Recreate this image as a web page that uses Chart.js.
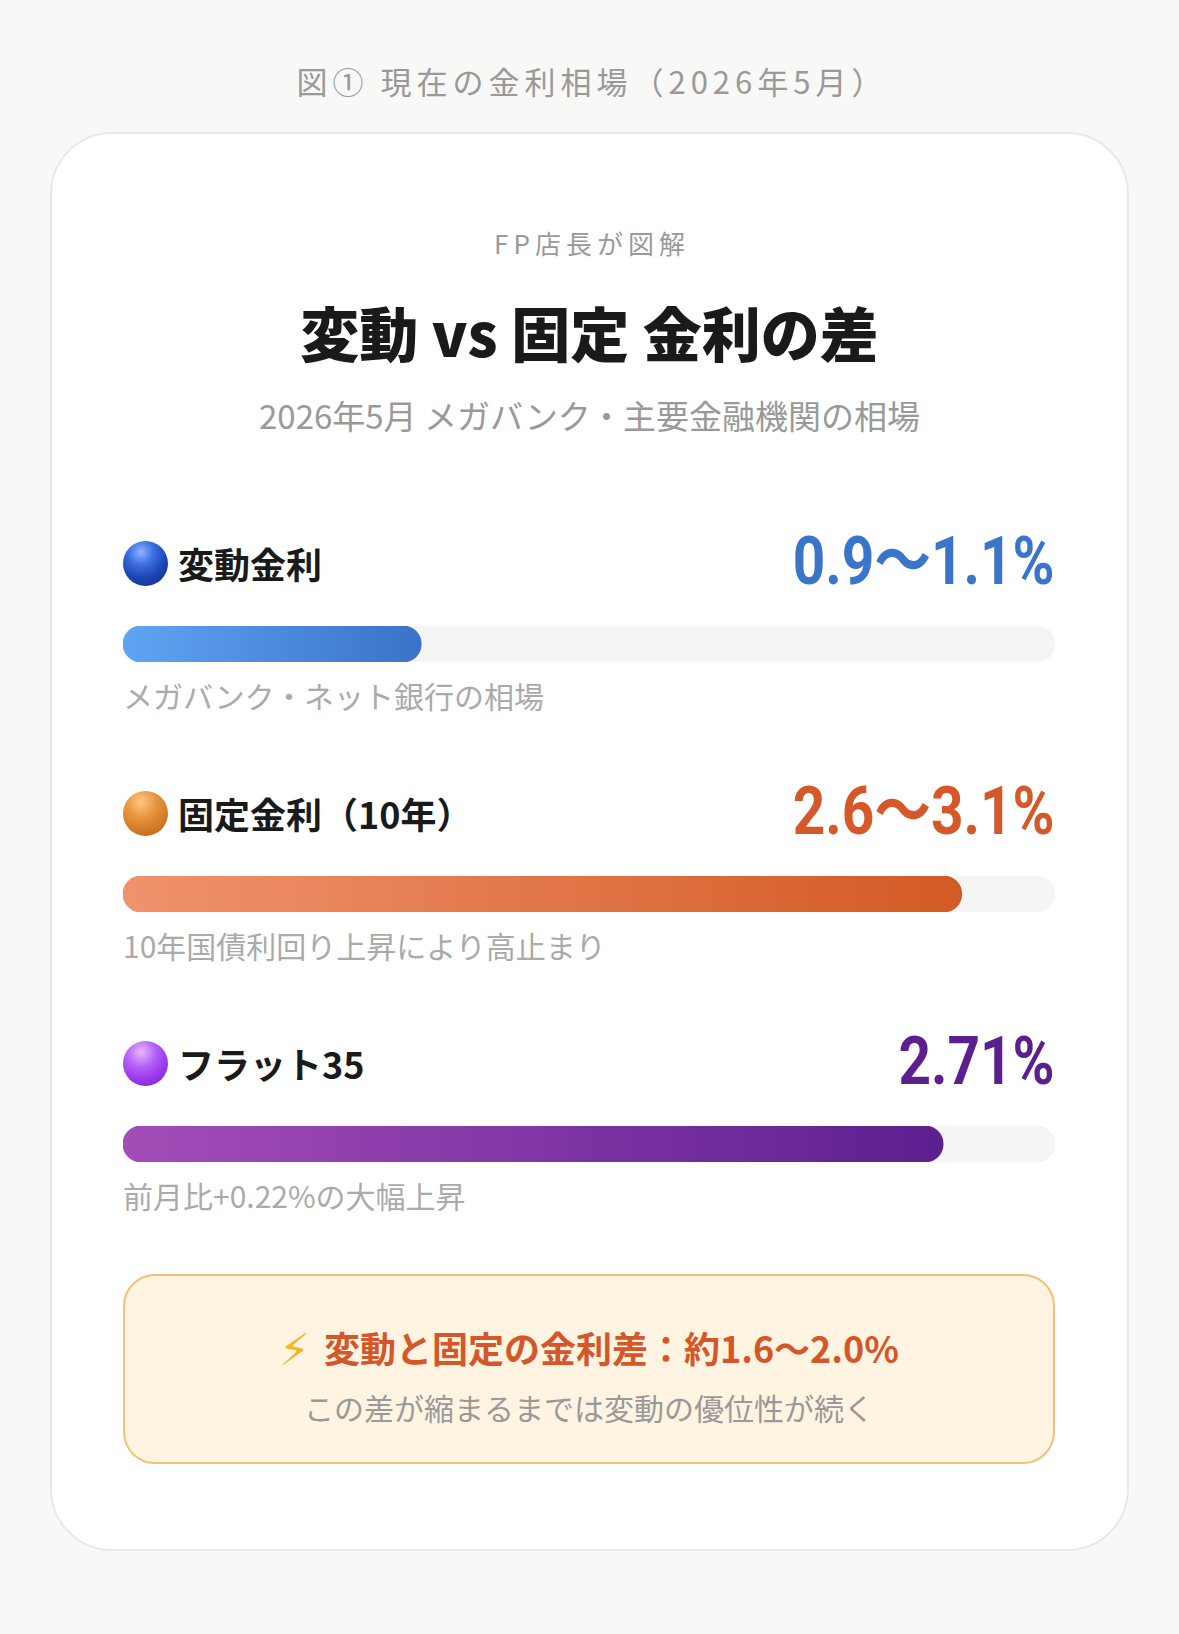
<!DOCTYPE html>
<html lang="ja">
<head>
<meta charset="UTF-8">
<title>変動 vs 固定 金利の差</title>
<script src="https://cdn.jsdelivr.net/npm/chart.js"></script>
<style>
    body {
        margin: 0;
        width: 1179px;
        height: 1634px;
        position: relative;
        overflow: hidden;
        background: #f8f8f6;
        font-family: "Noto Sans CJK JP", "Noto Sans", sans-serif;
    }
    .abs { position: absolute; left: 0; width: 1179px; text-align: center; }
    .fig-title { top: 61px; height: 40px; line-height: 40px; font-size: 31px; color: #999; letter-spacing: 5px; padding-left: 5px; box-sizing: border-box; }
    .card {
        position: absolute; left: 50px; top: 132px; width: 1079px; height: 1419px;
        box-sizing: border-box; background: #fff; border: 2px solid #e8e8e8; border-radius: 62px;
    }
    .kicker { top: 228px; height: 30px; line-height: 30px; font-size: 26px; color: #999; letter-spacing: 5px; padding-left: 5px; box-sizing: border-box; }
    .heading { top: 297px; height: 70px; line-height: 70px; font-size: 59px; font-weight: 900; color: #1a1a1a; }
    .sub { top: 395px; height: 40px; line-height: 40px; font-size: 33px; color: #999; }

    #rows { position: absolute; left: 123px; top: 528px; width: 932px; }
    .row { height: 250px; }
    .head { height: 70px; display: flex; align-items: center; justify-content: space-between; }
    .label { display: flex; align-items: center; font-size: 36px; font-weight: 700; color: #1a1a1a; line-height: 50px; }
    .dot { width: 45px; height: 45px; border-radius: 50%; margin-right: 10px; }
    .rate {
        font-family: Roboto, "Noto Sans CJK JP", sans-serif; font-weight: 700; font-size: 66px;
        line-height: 70px; transform: scaleX(0.86); transform-origin: right center;
        position: relative; top: -1px; white-space: nowrap;
    }
    .bar { margin-top: 28px; height: 36px; position: relative; }
    .note { margin-top: 18px; height: 30px; line-height: 30px; font-size: 30px; color: #aaa; }

    .callout {
        position: absolute; left: 123px; top: 1274px; width: 932px; height: 190px;
        box-sizing: border-box; border: 2.5px solid #f0c274; background: #fff4e2;
        border-radius: 32px; text-align: center;
    }
    .callout .l1 { margin-top: 46px; height: 50px; line-height: 50px; font-size: 36px; font-weight: 700; color: #d4572a; white-space: nowrap; }
    .callout .bolt { font-family: "DejaVu Sans", sans-serif; font-size: 44px; color: #f4b526; font-weight: 400; margin-right: 14px; position: relative; top: 2px; }
    .callout .l2 { margin-top: 15px; height: 40px; line-height: 40px; font-size: 30px; color: #999; }
</style>
</head>
<body>
    <div class="abs fig-title">図① 現在の金利相場（2026年5月）</div>
    <div class="card"></div>
    <div class="abs kicker">FP店長が図解</div>
    <div class="abs heading">変動 vs 固定 金利の差</div>
    <div class="abs sub">2026年5月 メガバンク・主要金融機関の相場</div>

    <div id="rows"></div>

    <div class="callout">
        <div class="l1"><span class="bolt">⚡</span>変動と固定の金利差：約1.6〜2.0%</div>
        <div class="l2">この差が縮まるまでは変動の優位性が続く</div>
    </div>

<script>
    // データ
    const categories = ['変動金利', '固定金利（10年）', 'フラット35'];
    const rateLabels = ['0.9～1.1%', '2.6～3.1%', '2.71%'];
    const fillLevels = [32, 90, 88];      // バーの長さ（%）
    const trackLevels = [100, 100, 100];  // 背景トラック
    const notes = ['メガバンク・ネット銀行の相場', '10年国債利回り上昇により高止まり', '前月比+0.22%の大幅上昇'];

    // 色
    const gradFrom = ['#5fa5f2', '#f0936d', '#a44db9'];
    const gradTo = ['#3a72c7', '#d35a24', '#5d1f90'];
    const rateColors = ['#3a75c9', '#d4582a', '#5c1f8e'];
    const dotStyles = [
        'radial-gradient(circle at 40% 25%, #8fb4ff 0%, #3a6ee0 30%, #1c44b4 60%, #102c86 100%)',
        'radial-gradient(circle at 40% 25%, #ffc880 0%, #e8963e 35%, #d27a26 65%, #b0601a 100%)',
        'radial-gradient(circle at 40% 25%, #e7b6ff 0%, #b360f6 35%, #9a34ee 65%, #7a1fcc 100%)'
    ];

    const rows = document.getElementById('rows');

    categories.forEach((cat, i) => {
        const row = document.createElement('div');
        row.className = 'row';
        row.innerHTML =
            '<div class="head">' +
                '<div class="label"><span class="dot" style="background:' + dotStyles[i] + '"></span>' + cat + '</div>' +
                '<div class="rate" style="color:' + rateColors[i] + '">' + rateLabels[i] + '</div>' +
            '</div>' +
            '<div class="bar"><canvas id="bar' + i + '"></canvas></div>' +
            '<div class="note">' + notes[i] + '</div>';
        rows.appendChild(row);

        new Chart(document.getElementById('bar' + i), {
            type: 'bar',
            data: {
                labels: [cat],
                datasets: [
                    {
                        data: [fillLevels[i]],
                        order: 0,
                        backgroundColor: (ctx) => {
                            const chart = ctx.chart;
                            if (!chart.chartArea || !chart.scales.x) return gradTo[i];
                            const x0 = chart.scales.x.getPixelForValue(0);
                            const x1 = chart.scales.x.getPixelForValue(fillLevels[i]);
                            const g = chart.ctx.createLinearGradient(x0, 0, x1, 0);
                            g.addColorStop(0, gradFrom[i]);
                            g.addColorStop(1, gradTo[i]);
                            return g;
                        },
                        borderRadius: 18,
                        borderSkipped: false
                    },
                    {
                        data: [trackLevels[i]],
                        order: 1,
                        backgroundColor: '#f5f5f5',
                        borderRadius: 18,
                        borderSkipped: false
                    }
                ]
            },
            options: {
                indexAxis: 'y',
                responsive: true,
                maintainAspectRatio: false,
                animation: false,
                events: [],
                layout: { padding: 0 },
                datasets: { bar: { grouped: false, barPercentage: 1, categoryPercentage: 1 } },
                scales: {
                    x: { display: false, min: 0, max: 100 },
                    y: { display: false }
                },
                plugins: {
                    legend: { display: false },
                    tooltip: { enabled: false }
                }
            }
        });
    });
</script>
</body>
</html>
